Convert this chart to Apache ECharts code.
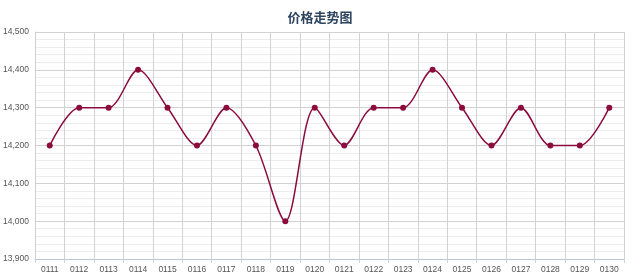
<!DOCTYPE html>
<html>
<head>
<meta charset="utf-8">
<script src="https://cdn.jsdelivr.net/npm/echarts@6/dist/echarts.min.js"></script>
<style>html,body{margin:0;padding:0;background:#fff;}#c{width:640px;height:279px;}</style>
</head>
<body>
<div id="c"></div>
<script>
const titleText = '价格走势图';
const categories = ['0111','0112','0113','0114','0115','0116','0117','0118','0119','0120','0121','0122','0123','0124','0125','0126','0127','0128','0129','0130'];
const prices = [14200,14300,14300,14400,14300,14200,14300,14200,14000,14300,14200,14300,14300,14400,14300,14200,14300,14200,14200,14300];
const yMin = 13900, yMax = 14500, yStep = 100;

const chart = echarts.init(document.getElementById('c'), null, {renderer: 'canvas'});
chart.setOption({
  animation: false,
  backgroundColor: '#ffffff',
  title: {
    text: titleText, left: 'center', top: 6,
    textStyle: {fontSize: 13, fontWeight: 'bold', color: '#2e4560', fontFamily: 'Noto Sans CJK SC'}
  },
  grid: {left: 35, right: 16, top: 32, bottom: 20, containLabel: false, outerBoundsMode: 'none'},
  xAxis: {
    type: 'category', data: categories, boundaryGap: true,
    axisLine: {show: true, lineStyle: {color: '#b8c8d8', width: 1}},
    axisTick: {show: true, length: 4, lineStyle: {color: '#c8d4e0'}},
    axisLabel: {color: '#555', fontSize: 8.5, margin: 6, interval: 0, fontFamily: 'Liberation Sans'},
    splitLine: {show: true, lineStyle: {color: '#d2d2d2', width: 1}}
  },
  yAxis: {
    type: 'value', min: yMin, max: yMax, interval: yStep,
    axisLine: {show: true, lineStyle: {color: '#cfcfcf'}},
    axisTick: {show: false},
    axisLabel: {color: '#555', fontSize: 8.5, margin: 6, fontFamily: 'Liberation Sans',
      formatter: v => v.toLocaleString('en-US')},
    splitLine: {show: true, lineStyle: {color: '#d2d2d2', width: 1}},
    minorTick: {show: true, splitNumber: 5, length: 0, lineStyle: {width: 0}},
    minorSplitLine: {show: true, lineStyle: {color: '#ececec', width: 1}}
  },
  series: [{
    type: 'line', data: prices, smooth: 0.3,
    symbol: 'circle', symbolSize: 6,
    lineStyle: {color: '#8b0c3c', width: 1.5},
    itemStyle: {color: '#8b0c3c'}
  }]
});
</script>
</body>
</html>
